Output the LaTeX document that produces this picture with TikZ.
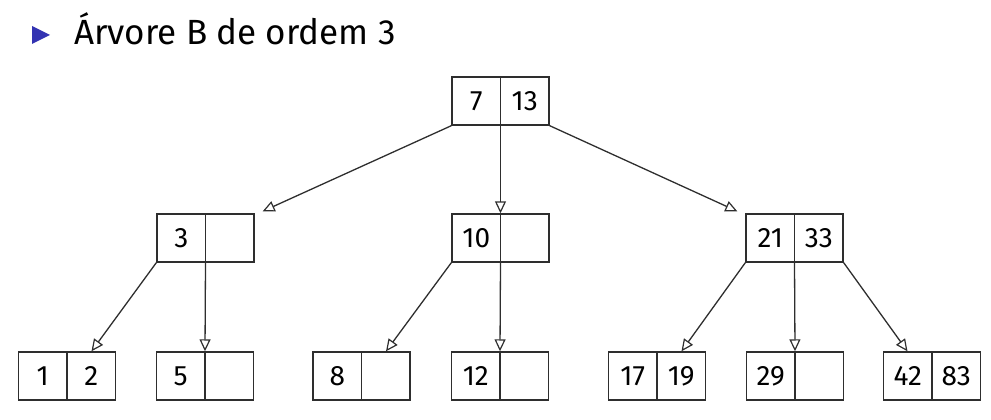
\documentclass[tikz,border=0pt]{standalone}
\usepackage{fontspec}
\setmainfont{Fira Sans}
\newfontfamily\handfont{Fira Sans}
\usetikzlibrary{arrows.meta,calc}
\definecolor{linec}{HTML}{2E2E2E}
\definecolor{beamerblue}{HTML}{3333B2}
\begin{document}
\begin{tikzpicture}[x=1pt,y=-1pt,
  bnode/.style={draw=linec, line width=1.4pt, minimum width=97pt, minimum height=48pt, inner sep=0pt},
  keytext/.style={font=\handfont\fontsize{28}{30}\selectfont, text=black, inner sep=0pt},
  ptr/.style={draw=linec, line width=1.3pt, -{Triangle[open, length=12pt, width=11pt, line width=1.2pt]}},
  title/.style={font=\fontsize{35}{40}\selectfont, anchor=base west, inner sep=0pt}]
\useasboundingbox (0,0) rectangle (991,420);
% title
\fill[beamerblue] (32,26) -- (50,35) -- (32,44) -- cycle;
\node[title] (ttl) at (74,45) {Árvore B de ordem 3};
% nodes
\node[bnode] (r) at (500.5,101) {};
\node[bnode] (a) at (205.5,238) {};
\node[bnode] (b) at (500.5,238) {};
\node[bnode] (c) at (794.5,238) {};
\node[bnode] (l1) at (67,376) {};
\node[bnode] (l2) at (205,376) {};
\node[bnode] (l3) at (361.5,376) {};
\node[bnode] (l4) at (500,376) {};
\node[bnode] (l5) at (657,376) {};
\node[bnode] (l6) at (795,376) {};
\node[bnode] (l7) at (932,376) {};
% dividers
\foreach \n in {r,a,b,c,l1,l2,l3,l4,l5,l6,l7}{
  \draw[draw=linec, line width=1.4pt] (\n.north) -- (\n.south);
}
% keys
\node[keytext] (r1) at ($(r.center)+(-24.25,0)$) {7};
\node[keytext] (r2) at ($(r.center)+(24.25,0)$) {13};
\node[keytext] (a1) at ($(a.center)+(-24.25,0)$) {3};
\node[keytext] (b1) at ($(b.center)+(-24.25,0)$) {10};
\node[keytext] (c1) at ($(c.center)+(-24.25,0)$) {21};
\node[keytext] (c2) at ($(c.center)+(24.25,0)$) {33};
\node[keytext] (k11) at ($(l1.center)+(-24.25,0)$) {1};
\node[keytext] (k12) at ($(l1.center)+(24.25,0)$) {2};
\node[keytext] (k21) at ($(l2.center)+(-24.25,0)$) {5};
\node[keytext] (k31) at ($(l3.center)+(-24.25,0)$) {8};
\node[keytext] (k41) at ($(l4.center)+(-24.25,0)$) {12};
\node[keytext] (k51) at ($(l5.center)+(-24.25,0)$) {17};
\node[keytext] (k52) at ($(l5.center)+(24.25,0)$) {19};
\node[keytext] (k61) at ($(l6.center)+(-24.25,0)$) {29};
\node[keytext] (k71) at ($(l7.center)+(-24.25,0)$) {42};
\node[keytext] (k72) at ($(l7.center)+(24.25,0)$) {83};
% pointer targets
\coordinate (ta) at ($(a.north east)+(8,-2)$);
\coordinate (tc) at ($(c.north west)+(-8,-2)$);
\coordinate (t1) at ($(l1.north)+(24.5,0)$);
\coordinate (t3) at ($(l3.north)+(24.5,0)$);
\coordinate (t5) at ($(l5.north)+(24.5,0)$);
\coordinate (t7) at ($(l7.north)+(-24.5,0)$);
% connectors
\draw[ptr] (r.south west) -- (ta);
\draw[ptr] (r.south) -- (b.north);
\draw[ptr] (r.south east) -- (tc);
\draw[ptr] (a.south west) -- (t1);
\draw[ptr] (a.south) -- (l2.north);
\draw[ptr] (b.south west) -- (t3);
\draw[ptr] (b.south) -- (l4.north);
\draw[ptr] (c.south west) -- (t5);
\draw[ptr] (c.south) -- (l6.north);
\draw[ptr] (c.south east) -- (t7);
\end{tikzpicture}
\end{document}
